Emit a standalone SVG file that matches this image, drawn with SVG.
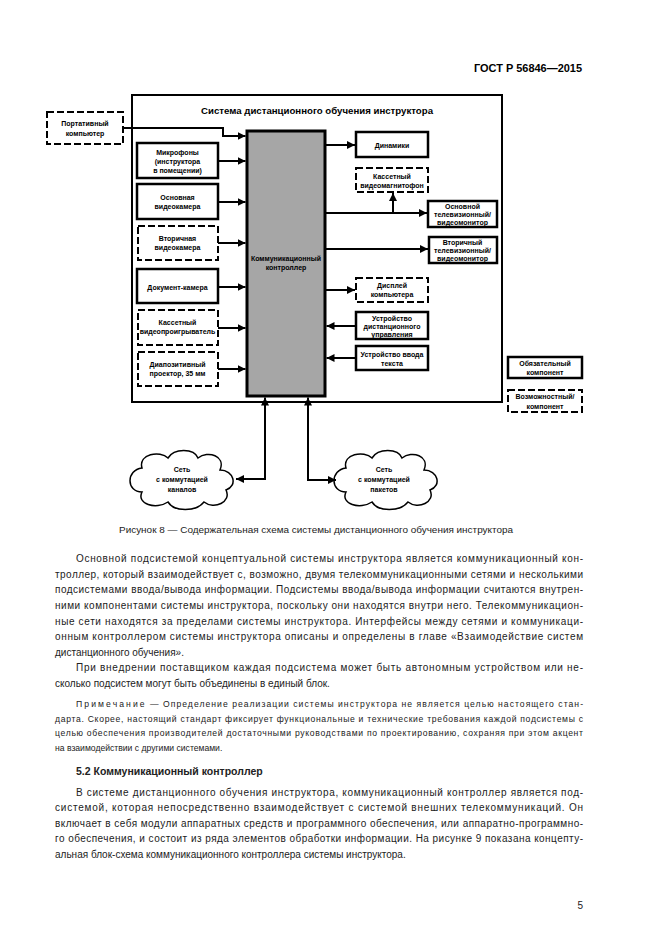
<svg xmlns="http://www.w3.org/2000/svg" width="661" height="935" viewBox="0 0 661 935">
<defs>
<style>
.bx{fill:#fff;stroke:#000;stroke-width:2.5}
.dx{fill:#fff;stroke:#000;stroke-width:2;stroke-dasharray:7,3}
.ln{fill:none;stroke:#000;stroke-width:2}
.t{font-family:"Liberation Sans",Arial,sans-serif;font-size:7px;font-weight:bold;text-anchor:middle;fill:#000}
.b{font-family:"Liberation Sans",Arial,sans-serif;font-size:10px;fill:#222}
.n{font-family:"Liberation Sans",Arial,sans-serif;font-size:8.6px;fill:#222}
.cl{fill:#fff;stroke:#000;stroke-width:1.5}
</style>
<marker id="ar" viewBox="0 0 10 10" refX="10" refY="5" markerWidth="4" markerHeight="4" orient="auto-start-reverse" markerUnits="strokeWidth">
<path d="M0,0 L10,5 L0,10 z" fill="#000"/>
</marker>
</defs>
<rect width="661" height="935" fill="#fff"/>

<text x="582" y="72" font-family="Liberation Sans,Arial,sans-serif" font-size="11" font-weight="bold" text-anchor="end" textLength="108" lengthAdjust="spacingAndGlyphs">ГОСТ Р 56846—2015</text>

<g id="frame">
<rect x="132" y="95" width="370" height="307" fill="none" stroke="#000" stroke-width="2"/>
<text x="317" y="114" font-family="Liberation Sans,Arial,sans-serif" font-size="9" font-weight="bold" text-anchor="middle" textLength="232" lengthAdjust="spacingAndGlyphs">Система дистанционного обучения инструктора</text>
</g>

<g id="controller">
<rect x="247" y="131" width="78" height="265" fill="#a6a6a6" stroke="#000" stroke-width="3"/>
<text class="t" x="286" y="260.5">Коммуникационный</text>
<text class="t" x="286" y="269.5">контроллер</text>
</g>

<g id="laptop">
<rect class="dx" x="47" y="112" width="76" height="32"/>
<text class="t" x="85" y="125.5">Портативный</text>
<text class="t" x="85" y="135.5">компьютер</text>
</g>
<g id="mic">
<rect class="bx" x="137" y="143" width="81" height="35"/>
<text class="t" x="177.5" y="154.5">Микрофоны</text>
<text class="t" x="177.5" y="163.5">(инструктора</text>
<text class="t" x="177.5" y="172.5">в помещении)</text>
</g>
<g id="cam1">
<rect class="bx" x="137" y="184" width="81" height="35"/>
<text class="t" x="177.5" y="200">Основная</text>
<text class="t" x="177.5" y="209">видеокамера</text>
</g>
<g id="cam2">
<rect class="dx" x="138" y="226" width="80" height="34"/>
<text class="t" x="177.5" y="240.5">Вторичная</text>
<text class="t" x="177.5" y="250">видеокамера</text>
</g>
<g id="doccam">
<rect class="bx" x="137" y="269" width="81" height="34"/>
<text class="t" x="177.5" y="289.5">Документ-камера</text>
</g>
<g id="vcp">
<rect class="dx" x="138" y="310" width="80" height="35"/>
<text class="t" x="177.5" y="324.5">Кассетный</text>
<text class="t" x="177.5" y="333.5">видеопроигрыватель</text>
</g>
<g id="slide">
<rect class="dx" x="138" y="352" width="80" height="34"/>
<text class="t" x="177.5" y="366.5">Диапозитивный</text>
<text class="t" x="177.5" y="375.5">проектор, 35 мм</text>
</g>

<g id="speakers">
<rect class="bx" x="356" y="132" width="72" height="25"/>
<text class="t" x="392" y="147.5">Динамики</text>
</g>
<g id="vcr">
<rect class="dx" x="356" y="168" width="72" height="24"/>
<text class="t" x="392" y="178.5">Кассетный</text>
<text class="t" x="392" y="188">видеомагнитофон</text>
</g>
<g id="mon1">
<rect class="bx" x="428" y="201" width="69" height="26"/>
<text class="t" x="462.5" y="208.5">Основной</text>
<text class="t" x="462.5" y="216.5">телевизионный/</text>
<text class="t" x="462.5" y="224.5">видеомонитор</text>
</g>
<g id="mon2">
<rect class="bx" x="429" y="237" width="68" height="26"/>
<text class="t" x="462.5" y="244.5">Вторичный</text>
<text class="t" x="462.5" y="252.5">телевизионный/</text>
<text class="t" x="462.5" y="260.5">видеомонитор</text>
</g>
<g id="display">
<rect class="dx" x="356" y="278" width="72" height="24"/>
<text class="t" x="392" y="287.5">Дисплей</text>
<text class="t" x="392" y="297">компьютера</text>
</g>
<g id="remote">
<rect class="bx" x="356" y="312" width="72" height="27"/>
<text class="t" x="392" y="320.5">Устройство</text>
<text class="t" x="392" y="328.5">дистанционного</text>
<text class="t" x="392" y="336.5">управления</text>
</g>
<g id="textinput">
<rect class="bx" x="356" y="346" width="72" height="24"/>
<text class="t" x="392" y="356.5">Устройство ввода</text>
<text class="t" x="392" y="366">текста</text>
</g>

<g id="legend-mandatory">
<rect class="bx" x="508" y="357" width="74" height="21"/>
<text class="t" x="545" y="366">Обязательный</text>
<text class="t" x="545" y="375">компонент</text>
</g>
<g id="legend-optional">
<rect class="dx" x="508" y="390" width="74" height="22"/>
<text class="t" x="545" y="399">Возможностный/</text>
<text class="t" x="545" y="408.5">компонент</text>
</g>

<g id="net-circuit">
<path class="cl" transform="translate(182,480)" d="M-40,-12 C-44,-26 -22,-30 -14,-22 C-8,-32 12,-32 16,-22 C26,-30 44,-24 38,-10 C52,-10 56,6 44,10 C50,22 32,30 22,22 C14,32 -8,32 -14,22 C-26,30 -46,24 -40,12 C-56,12 -56,-10 -40,-12 Z"/>
<text class="t" x="182" y="472">Сеть</text>
<text class="t" x="182" y="482">с коммутацией</text>
<text class="t" x="182" y="491.5">каналов</text>
</g>
<g id="net-packet">
<path class="cl" transform="translate(386,480)" d="M-40,-12 C-44,-26 -22,-30 -14,-22 C-8,-32 12,-32 16,-22 C26,-30 44,-24 38,-10 C52,-10 56,6 44,10 C50,22 32,30 22,22 C14,32 -8,32 -14,22 C-26,30 -46,24 -40,12 C-56,12 -56,-10 -40,-12 Z"/>
<text class="t" x="384" y="472">Сеть</text>
<text class="t" x="384" y="482">с коммутацией</text>
<text class="t" x="384" y="491.5">пакетов</text>
</g>

<g id="connectors">
<polyline class="ln" points="123,128 223,128 223,136 245.5,136" marker-end="url(#ar)"/>
<line class="ln" x1="218" y1="161" x2="245.5" y2="161" marker-end="url(#ar)"/>
<line class="ln" x1="218" y1="202" x2="245.5" y2="202" marker-end="url(#ar)"/>
<line class="ln" x1="218" y1="243" x2="245.5" y2="243" marker-end="url(#ar)"/>
<line class="ln" x1="218" y1="287" x2="245.5" y2="287" marker-end="url(#ar)"/>
<line class="ln" x1="218" y1="328" x2="245.5" y2="328" marker-end="url(#ar)"/>
<line class="ln" x1="218" y1="369" x2="245.5" y2="369" marker-end="url(#ar)"/>
<line class="ln" x1="326" y1="145" x2="355" y2="145" marker-end="url(#ar)"/>
<line class="ln" x1="326" y1="213" x2="427" y2="213" marker-end="url(#ar)"/>
<line class="ln" x1="393" y1="213" x2="393" y2="193" marker-end="url(#ar)"/>
<line class="ln" x1="326" y1="249" x2="428" y2="249" marker-end="url(#ar)"/>
<line class="ln" x1="326" y1="290" x2="355" y2="290" marker-end="url(#ar)"/>
<line class="ln" x1="356" y1="326" x2="326.5" y2="326" marker-end="url(#ar)"/>
<line class="ln" x1="356" y1="358" x2="326.5" y2="358" marker-end="url(#ar)"/>
<polyline class="ln" points="236,479 265,479 265,397.5" marker-start="url(#ar)" marker-end="url(#ar)"/>
<polyline class="ln" points="308,397.5 308,480 336,480" marker-start="url(#ar)" marker-end="url(#ar)"/>
</g>

<text x="316" y="533" font-family="Liberation Sans,Arial,sans-serif" font-size="9.5" fill="#222" text-anchor="middle" textLength="394" lengthAdjust="spacingAndGlyphs">Рисунок 8 — Содержательная схема системы дистанционного обучения инструктора</text>

<g id="body">
<text class="b" x="76" y="562" textLength="507" lengthAdjust="spacing">Основной подсистемой концептуальной системы инструктора является коммуникационный кон-</text>
<text class="b" x="55" y="577.5" textLength="528" lengthAdjust="spacing">троллер, который взаимодействует с, возможно, двумя телекоммуникационными сетями и несколькими</text>
<text class="b" x="55" y="593" textLength="528" lengthAdjust="spacing">подсистемами ввода/вывода информации. Подсистемы ввода/вывода информации считаются внутрен-</text>
<text class="b" x="55" y="609" textLength="528" lengthAdjust="spacing">ними компонентами системы инструктора, поскольку они находятся внутри него. Телекоммуникацион-</text>
<text class="b" x="55" y="624.5" textLength="528" lengthAdjust="spacing">ные сети находятся за пределами системы инструктора. Интерфейсы между сетями и коммуникаци-</text>
<text class="b" x="55" y="640" textLength="528" lengthAdjust="spacing">онным контроллером системы инструктора описаны и определены в главе «Взаимодействие систем</text>
<text class="b" x="55" y="655.5">дистанционного обучения».</text>
<text class="b" x="76" y="671" textLength="507" lengthAdjust="spacing">При внедрении поставщиком каждая подсистема может быть автономным устройством или не-</text>
<text class="b" x="55" y="686.5">сколько подсистем могут быть объединены в единый блок.</text>
<text class="n" x="76" y="707" letter-spacing="2.1">Примечание</text>
<text class="n" x="150" y="707" textLength="433" lengthAdjust="spacing">— Определение реализации системы инструктора не является целью настоящего стан-</text>
<text class="n" x="55" y="721.5" textLength="528" lengthAdjust="spacing">дарта. Скорее, настоящий стандарт фиксирует функциональные и технические требования каждой подсистемы с</text>
<text class="n" x="55" y="736" textLength="528" lengthAdjust="spacing">целью обеспечения производителей достаточными руководствами по проектированию, сохраняя при этом акцент</text>
<text class="n" x="55" y="750.5">на взаимодействии с другими системами.</text>
<text x="76" y="775" font-family="Liberation Sans,Arial,sans-serif" font-size="10.5" font-weight="bold" fill="#222">5.2 Коммуникационный контроллер</text>
<text class="b" x="76" y="795.5" textLength="507" lengthAdjust="spacing">В системе дистанционного обучения инструктора, коммуникационный контроллер является под-</text>
<text class="b" x="55" y="811" textLength="528" lengthAdjust="spacing">системой, которая непосредственно взаимодействует с системой внешних телекоммуникаций. Он</text>
<text class="b" x="55" y="826.5" textLength="528" lengthAdjust="spacing">включает в себя модули аппаратных средств и программного обеспечения, или аппаратно-программно-</text>
<text class="b" x="55" y="842" textLength="528" lengthAdjust="spacing">го обеспечения, и состоит из ряда элементов обработки информации. На рисунке 9 показана концепту-</text>
<text class="b" x="55" y="857.5">альная блок-схема коммуникационного контроллера системы инструктора.</text>
<text class="b" x="583" y="909" text-anchor="end">5</text>
</g>
</svg>
